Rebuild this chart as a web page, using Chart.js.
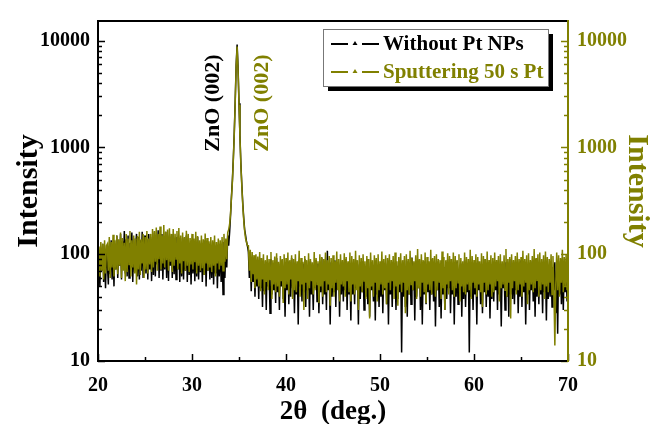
<!DOCTYPE html>
<html lang="en">
<head>
    <meta charset="UTF-8">
    <title>XRD ZnO</title>
    <script src="https://cdn.jsdelivr.net/npm/chart.js"></script>
    <style>
        body { margin: 0; background: #ffffff; }
        .chart-container { width: 650px; height: 424px; position: relative; }
    </style>
</head>
<body>
    <div class="chart-container">
        <canvas id="xrdChart"></canvas>
    </div>

    <script>
        // scan grid: 20 to 70 deg, 0.1 deg step
        const xStart = 20;
        const xStep = 0.1;
        const xTickLabels = [20, 30, 40, 50, 60, 70];
        const yTickLabels = [10, 100, 1000, 10000];
        const seriesNames = ['Without Pt NPs', 'Sputtering 50 s Pt'];
        const peakLabel = 'ZnO (002)';

        // one row per degree (10 points)
        const withoutPt = [
            62,100,50,115,70,125,55,105,48,110,
            80,52,120,65,135,58,108,50,125,72,
            150,60,125,78,155,58,132,85,165,66,
            138,62,150,60,128,75,160,55,140,68,
            118,155,62,145,58,135,70,162,60,125,
            150,66,138,58,155,72,130,56,145,64,
            160,62,140,80,168,60,145,70,155,58,
            130,72,162,60,142,56,150,78,135,60,
            155,65,125,58,145,72,138,55,130,62,
            142,58,122,70,150,55,132,64,125,52,
            135,66,120,56,130,62,145,58,115,68,
            128,55,122,64,135,50,118,70,125,58,
            120,60,130,52,112,66,122,48,116,62,
            125,55,110,42,130,60,118,75,150,120,
            160,230,350,500,800,1400,2800,6000,9200,5600,
            2600,1300,700,450,300,220,170,150,130,120,
            105,60,95,45,90,55,85,40,88,50,
            80,38,92,48,75,32,86,45,78,30,
            85,50,72,28,90,42,78,46,68,35,
            92,44,74,30,82,50,88,38,70,26,
            80,46,86,34,74,40,92,48,68,28,
            84,42,76,22,88,50,70,36,82,44,
            90,32,78,46,73,26,86,42,68,30,
            76,48,88,36,82,28,74,44,93,34,
            78,42,70,30,108,46,68,22,84,40,
            72,44,88,32,78,48,74,26,82,42,
            86,36,70,46,90,30,76,42,68,24,
            83,42,74,34,88,48,72,22,80,38,
            68,44,86,30,74,40,90,34,70,26,
            84,46,72,36,78,24,88,42,68,32,
            76,40,86,28,72,46,82,34,70,22,
            88,42,74,32,84,48,70,30,78,38,
            68,44,82,12,76,40,88,32,72,26,
            86,42,70,34,93,46,76,24,84,40,
            72,48,88,30,78,22,74,42,86,34,
            80,44,68,30,90,42,74,36,82,21,
            74,46,86,32,70,25,88,42,76,30,
            84,38,72,48,90,28,68,42,80,22,
            76,40,86,34,72,46,82,26,74,38,
            88,32,70,44,78,12,84,40,72,30,
            80,42,74,22,86,46,70,34,82,28,
            72,44,90,32,76,40,84,25,68,38,
            86,36,74,46,80,30,88,42,70,21,
            78,48,72,30,84,40,76,26,90,42,
            70,38,86,34,74,46,80,28,72,40,
            88,32,76,44,82,22,70,42,84,30,
            74,46,86,36,72,26,90,40,78,34,
            82,42,70,28,88,44,74,24,80,38,
            72,40,86,32,76,46,84,28,70,18,
            86,42,74,34,90,30,78,44,72,36,
            80
        ];

        const sputter50s = [
            90,118,62,130,70,125,58,135,66,120,
            125,70,145,60,130,75,152,62,135,72,
            150,65,138,78,160,60,142,70,128,56,
            155,68,140,80,165,62,135,75,150,66,
            140,52,148,72,162,64,138,82,155,60,
            145,72,165,66,140,80,155,68,172,75,
            165,85,178,70,155,90,182,72,150,82,
            188,75,162,88,170,70,175,85,155,68,
            172,78,155,90,165,72,176,82,150,66,
            160,86,145,70,166,78,155,68,142,80,
            155,72,140,84,162,66,148,78,135,70,
            150,74,138,64,156,82,142,70,132,75,
            145,68,135,78,150,62,130,82,140,72,
            135,78,145,70,155,85,140,90,160,170,
            190,240,340,480,780,1350,2700,5800,8800,5300,
            2500,1250,680,430,290,210,165,140,130,120,
            120,70,110,55,105,65,98,48,100,58,
            95,50,105,45,92,58,100,42,88,55,
            98,46,90,58,105,38,88,52,95,44,
            102,50,85,40,96,56,90,35,100,48,
            92,52,104,42,88,58,98,38,90,46,
            100,44,86,56,108,40,92,52,85,30,
            96,54,88,38,102,48,90,56,84,42,
            105,46,92,52,86,35,100,50,94,40,
            90,56,104,44,88,52,96,33,92,48,
            98,40,86,54,106,46,90,36,100,52,
            88,50,102,40,94,56,86,44,104,36,
            96,52,90,42,108,46,88,30,98,50,
            92,44,100,56,86,38,96,48,90,25,
            104,50,88,40,98,54,92,36,100,46,
            86,52,106,42,90,48,98,34,92,54,
            100,46,88,56,96,38,104,50,86,33,
            94,52,102,44,88,54,96,28,100,46,
            90,42,108,52,92,46,86,56,98,38,
            112,48,90,40,100,54,88,44,104,35,
            94,52,86,46,110,42,92,56,96,40,
            100,46,90,54,88,38,106,48,94,30,
            88,52,102,42,96,56,90,46,104,40,
            96,48,88,54,100,36,92,50,86,44,
            104,42,94,52,90,46,110,38,96,54,
            88,48,100,40,94,52,86,44,102,32,
            96,54,90,42,106,46,88,52,98,40,
            92,44,104,50,88,56,96,36,100,48,
            86,52,98,46,112,40,90,54,94,25,
            100,48,88,56,96,42,104,46,90,52,
            94,40,108,50,90,54,98,34,102,46,
            88,52,96,44,112,48,92,56,100,40,
            104,46,90,52,98,38,106,50,94,44,
            90,54,100,42,96,48,14,52,104,46,
            98,40,92,54,110,44,94,50,100,46,
            90
        ];

        const BLACK = '#000000';
        const OLIVE = '#808000';
        const FONT = '"Liberation Serif", "Times New Roman", serif';

        const toPoints = arr => arr.map((v, i) => ({ x: +(xStart + i * xStep).toFixed(1), y: v }));

        // frame, inward ticks, legend box and peak labels
        const decorations = {
            id: 'decorations',
            afterDatasetsDraw(chart) {
                const c = chart.ctx;
                const { left, right, top, bottom } = chart.chartArea;
                const xs = chart.scales.x, yl = chart.scales.y, yr = chart.scales.y2;
                c.save();

                // y ticks (log): major at decades, minor at 2..9
                const drawYTicks = (scale, x0, dir, color) => {
                    c.strokeStyle = color;
                    c.lineWidth = 1.5;
                    scale.ticks.forEach(t => {
                        const v = t.value;
                        const p = Math.pow(10, Math.floor(Math.log10(v) + 1e-9));
                        const m = v / p;
                        if (Math.abs(m - Math.round(m)) > 1e-6 || v > scale.max) return;
                        const len = yTickLabels.includes(v) ? 7 : 4;
                        const y = Math.round(scale.getPixelForValue(v)) + 0.5;
                        c.beginPath();
                        c.moveTo(x0, y);
                        c.lineTo(x0 + dir * len, y);
                        c.stroke();
                    });
                };
                drawYTicks(yl, left, 1, BLACK);
                drawYTicks(yr, right, -1, OLIVE);

                // x ticks
                c.strokeStyle = BLACK;
                xs.ticks.forEach(t => {
                    const len = xTickLabels.includes(t.value) ? 7 : 4;
                    const x = Math.round(xs.getPixelForValue(t.value)) + 0.5;
                    c.beginPath();
                    c.moveTo(x, bottom);
                    c.lineTo(x, bottom - len);
                    c.stroke();
                });

                // frame
                c.lineWidth = 2;
                c.strokeStyle = BLACK;
                c.beginPath();
                c.moveTo(right, top);
                c.lineTo(left, top);
                c.lineTo(left, bottom);
                c.lineTo(right, bottom);
                c.stroke();
                c.strokeStyle = OLIVE;
                c.beginPath();
                c.moveTo(right, top - 1);
                c.lineTo(right, bottom + 1);
                c.stroke();

                // peak labels
                c.font = 'bold 22px ' + FONT;
                c.textAlign = 'center';
                c.textBaseline = 'middle';
                const ly = yl.getPixelForValue(2600);
                [[32.25, BLACK], [37.45, OLIVE]].forEach(([xv, col]) => {
                    c.save();
                    c.translate(xs.getPixelForValue(xv), ly);
                    c.rotate(-Math.PI / 2);
                    c.fillStyle = col;
                    c.fillText(peakLabel, 0, 0);
                    c.restore();
                });

                // legend
                const bx = 323, by = 29, bw = 225, bh = 57;
                c.fillStyle = BLACK;
                c.fillRect(bx + 5, by + 5, bw, bh);
                c.fillStyle = '#ffffff';
                c.fillRect(bx, by, bw, bh);
                c.strokeStyle = '#777777';
                c.lineWidth = 1;
                c.strokeRect(bx + 0.5, by + 0.5, bw, bh);
                c.font = 'bold 21px ' + FONT;
                c.textAlign = 'left';
                [[BLACK, 44], [OLIVE, 72]].forEach(([col, yy], i) => {
                    c.strokeStyle = col;
                    c.fillStyle = col;
                    c.lineWidth = 2;
                    c.beginPath();
                    c.moveTo(331, yy); c.lineTo(348, yy);
                    c.moveTo(362, yy); c.lineTo(379, yy);
                    c.stroke();
                    c.beginPath();
                    c.moveTo(355, yy - 3); c.lineTo(352.5, yy + 1); c.lineTo(357.5, yy + 1);
                    c.closePath();
                    c.fill();
                    c.fillText(seriesNames[i], 383, yy + 1);
                });
                c.restore();
            }
        };

        const ctx = document.getElementById('xrdChart').getContext('2d');
        const xrdChart = new Chart(ctx, {
            type: 'line',
            data: {
                datasets: [{
                    label: seriesNames[0],
                    data: toPoints(withoutPt),
                    borderColor: BLACK,
                    borderWidth: 1.5,
                    pointRadius: 0,
                    order: 2,
                    yAxisID: 'y'
                }, {
                    label: seriesNames[1],
                    data: toPoints(sputter50s),
                    borderColor: OLIVE,
                    borderWidth: 1.5,
                    pointRadius: 0,
                    order: 1,
                    yAxisID: 'y'
                }]
            },
            options: {
                responsive: true,
                maintainAspectRatio: false,
                animation: false,
                layout: { padding: { top: 15, left: 0, right: 0, bottom: 0 } },
                plugins: {
                    legend: { display: false },
                    tooltip: { enabled: false }
                },
                scales: {
                    x: {
                        type: 'linear',
                        min: 20,
                        max: 70,
                        grid: { display: false, drawTicks: false },
                        border: { display: false },
                        afterFit: s => { s.height = 63; },
                        ticks: {
                            stepSize: 5,
                            padding: 13,
                            color: BLACK,
                            font: { family: FONT, size: 20, weight: 'bold' },
                            callback: v => xTickLabels.includes(v) ? String(v) : ''
                        },
                        title: {
                            display: true,
                            text: '2\u03B8  (deg.)',
                            color: BLACK,
                            padding: { top: 0, bottom: 0 },
                            font: { family: FONT, size: 27, weight: 'bold', lineHeight: 0.85 }
                        }
                    },
                    y: {
                        type: 'logarithmic',
                        position: 'left',
                        min: 10,
                        max: 15280,
                        grid: { display: false, drawTicks: false },
                        border: { display: false },
                        afterFit: s => { s.width = 98; },
                        ticks: {
                            autoSkip: false,
                            padding: 8,
                            color: BLACK,
                            font: { family: FONT, size: 20, weight: 'bold' },
                            callback: v => yTickLabels.includes(v) ? String(v) : ''
                        },
                        title: {
                            display: true,
                            text: 'Intensity',
                            color: BLACK,
                            padding: { top: 11, bottom: 0 },
                            font: { family: FONT, size: 30, weight: 'bold', lineHeight: 1.2 }
                        }
                    },
                    y2: {
                        type: 'logarithmic',
                        position: 'right',
                        min: 10,
                        max: 15280,
                        grid: { display: false, drawTicks: false },
                        border: { display: false },
                        afterFit: s => { s.width = 82; },
                        ticks: {
                            autoSkip: false,
                            padding: 9,
                            color: OLIVE,
                            font: { family: FONT, size: 20, weight: 'bold' },
                            callback: v => yTickLabels.includes(v) ? String(v) : ''
                        },
                        title: {
                            display: true,
                            text: 'Intensity',
                            color: OLIVE,
                            padding: { top: 4, bottom: 0 },
                            font: { family: FONT, size: 30, weight: 'bold', lineHeight: 0.6 }
                        }
                    }
                }
            },
            plugins: [decorations]
        });
    </script>
</body>
</html>
